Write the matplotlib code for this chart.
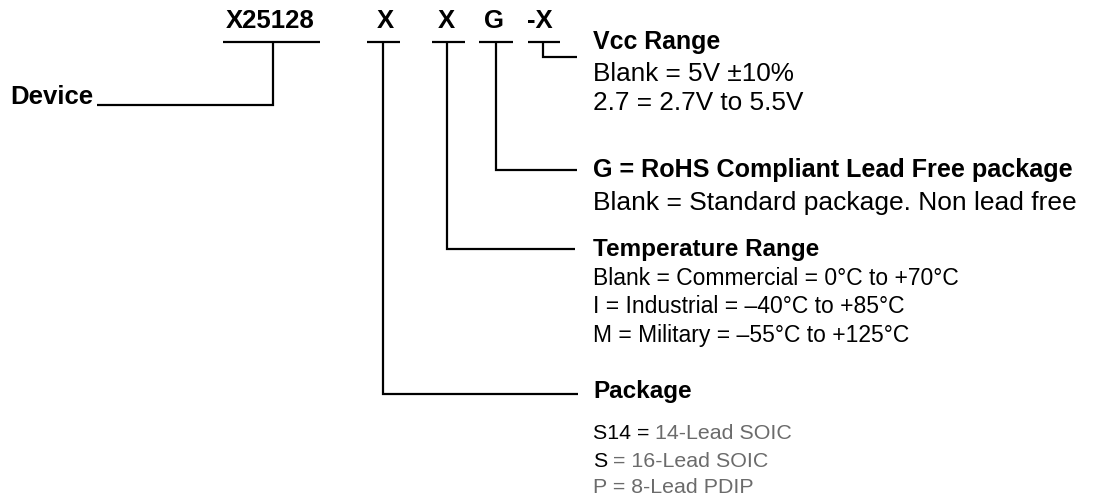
import matplotlib
matplotlib.use("Agg")
import matplotlib.pyplot as plt

# ---- content ----
part_labels = ["X25128", "X", "X", "G", "-X"]
part_centers = [270, 385, 446, 494, 540]

device_label = "Device"

vcc_title = "Vcc Range"
vcc_lines = ["Blank = 5V \u00b110%", "2.7 = 2.7V to 5.5V"]

rohs_title = "G = RoHS Compliant Lead Free package"
rohs_lines = ["Blank = Standard package. Non lead free"]

temp_title = "Temperature Range"
temp_lines = ["Blank = Commercial = 0\u00b0C to +70\u00b0C",
              "I = Industrial = \u201340\u00b0C to +85\u00b0C",
              "M = Military = \u201355\u00b0C to +125\u00b0C"]

pkg_title = "Package"
pkg_prefix = ["S14 = ", "S", ""]
pkg_rest = ["14-Lead SOIC", " = 16-Lead SOIC", "P = 8-Lead PDIP"]

W, H = 1110, 497
fig = plt.figure(figsize=(W / 100, H / 100), dpi=100)
ax = fig.add_axes([0, 0, 1, 1])
ax.set_xlim(0, W)
ax.set_ylim(H, 0)
ax.axis("off")

FONT = ["Liberation Sans", "DejaVu Sans"]
LW = 1.6

# part number letters and underlines
under_spans = [(223, 320), (367, 400), (432, 465), (479, 513), (528, 560)]
for lab, cx, (x0, x1) in zip(part_labels, part_centers, under_spans):
    ax.text(cx, 28, lab, ha="center", va="baseline", fontsize=18.5,
            fontweight="bold", family=FONT)
    ax.plot([x0, x1], [42, 42], color="black", lw=LW, solid_capstyle="butt")

# connectors
def elbow(x, y_end, x_end):
    ax.plot([x, x, x_end], [42, y_end, y_end], color="black", lw=LW,
            solid_joinstyle="miter", solid_capstyle="butt")

elbow(273, 105, 97)      # device
elbow(543, 57, 577)      # vcc
elbow(496, 170, 577)     # rohs
elbow(447, 249, 575)     # temperature
elbow(383, 394, 578)     # package

ax.text(10, 104, device_label, ha="left", va="baseline", fontsize=18.5,
        fontweight="bold", family=FONT)

TX = 593

def block(title, lines, y_title, ys, tsize, lsize):
    ax.text(TX, y_title, title, ha="left", va="baseline", fontsize=tsize,
            fontweight="bold", family=FONT)
    for s, y in zip(lines, ys):
        ax.text(TX, y, s, ha="left", va="baseline", fontsize=lsize,
                family=FONT)

block(vcc_title, vcc_lines, 49, [81, 110], 17.9, 18.8)
block(rohs_title, rohs_lines, 177, [210], 18.1, 19.0)
block(temp_title, temp_lines, 256, [285, 313, 342], 17.5, 16.5)

ax.text(TX, 398, pkg_title, ha="left", va="baseline", fontsize=17.5,
        fontweight="bold", family=FONT)
PS = 15.4
for pre, rest, y in zip(pkg_prefix, pkg_rest, [439, 467, 493]):
    if pre:
        t = ax.text(TX, y, pre, ha="left", va="baseline", fontsize=PS,
                    family=FONT, color="black")
        ax.annotate(rest, xycoords=t, xy=(1, 0), va="bottom", ha="left",
                    fontsize=PS, family=FONT, color="#6b6b6b")
    else:
        ax.text(TX, y, rest, ha="left", va="baseline", fontsize=PS,
                family=FONT, color="#6b6b6b")

fig.savefig("out.png", dpi=100)
